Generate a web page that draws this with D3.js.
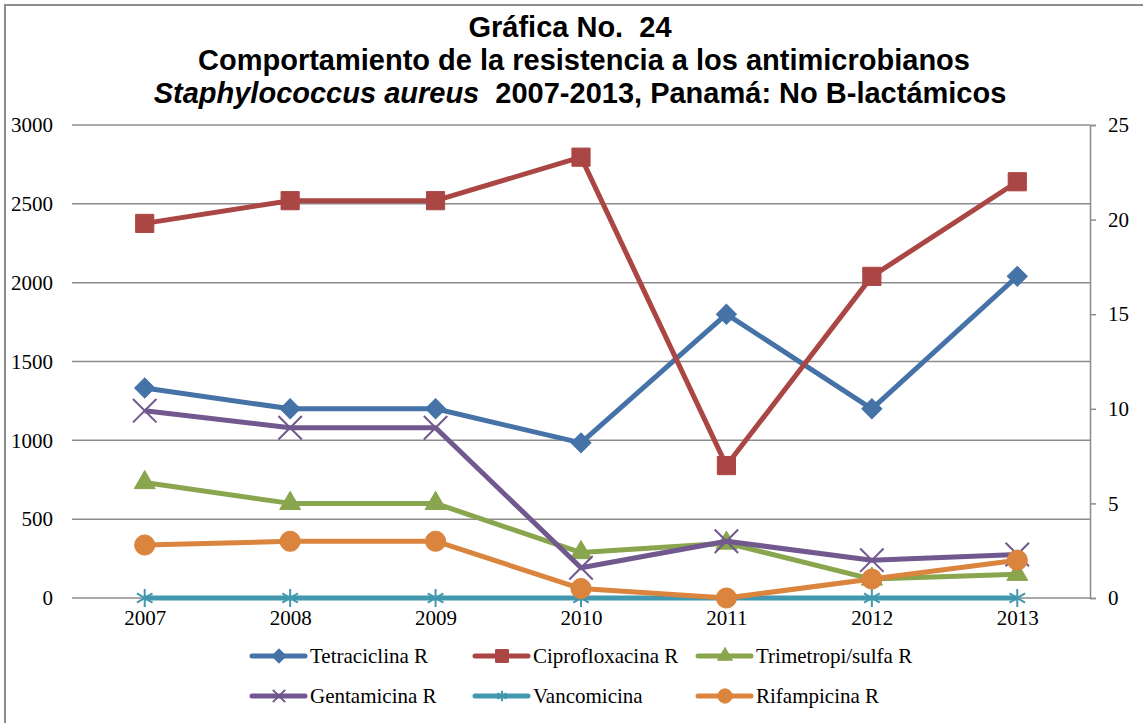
<!DOCTYPE html>
<html>
<head>
<meta charset="utf-8">
<script src="https://cdnjs.cloudflare.com/ajax/libs/d3/7.8.5/d3.min.js"></script>
<style>
  body { margin: 0; background: #fff; }
  svg { display: block; }
</style>
</head>
<body>
<div id="chart"></div>
<script>
// datos (eje derecho, 0-25)
var years = ["2007","2008","2009","2010","2011","2012","2013"];
var tetraciclina   = [11.1, 10, 10, 8.2, 15, 10, 17];
var ciprofloxacina = [19.8, 21, 21, 23.3, 7, 17, 22];
var trimetropi     = [6.1, 5, 5, 2.4, 2.9, 1, 1.25];
var gentamicina    = [9.9, 9, 9, 1.6, 3, 2, 2.3];
var vancomicina    = [0, 0, 0, 0, 0, 0, 0];
var rifampicina    = [2.8, 3, 3, 0.5, 0, 1, 2];

var leftTicks  = [0, 500, 1000, 1500, 2000, 2500, 3000];
var rightTicks = [0, 5, 10, 15, 20, 25];

var series = [
  {name: "Tetraciclina R",     values: tetraciclina,   color: "#4572A7", mark: "diamond"},
  {name: "Ciprofloxacina R",   values: ciprofloxacina, color: "#AA4643", mark: "square"},
  {name: "Trimetropi/sulfa R", values: trimetropi,     color: "#89A54E", mark: "triangle"},
  {name: "Gentamicina R",      values: gentamicina,    color: "#71588F", mark: "times"},
  {name: "Vancomicina",        values: vancomicina,    color: "#4198AF", mark: "asterisk"},
  {name: "Rifampicina R",      values: rifampicina,    color: "#DB843D", mark: "circle"}
];

var W = 1143, H = 723;
var plot = {left: 72, right: 1090, top: 125, bottom: 598};

var svg = d3.select("#chart").append("svg")
    .attr("width", W)
    .attr("height", H);

svg.append("rect")
    .attr("x", 5).attr("y", 5)
    .attr("width", W + 20).attr("height", H + 20)
    .attr("fill", "#fff")
    .attr("stroke", "#8c8c8c")
    .attr("stroke-width", 2);

// titulo
var title = svg.append("g")
    .attr("font-family", "'Liberation Sans', Arial, sans-serif")
    .attr("font-weight", "bold")
    .attr("font-size", 29)
    .attr("text-anchor", "middle")
    .attr("fill", "#000");
title.append("text").attr("x", 570).attr("y", 37).text("Gráfica No.\u00a0 24");
title.append("text").attr("x", 584).attr("y", 70).text("Comportamiento de la resistencia a los antimicrobianos");
var t3 = title.append("text").attr("x", 580).attr("y", 103);
t3.append("tspan").attr("font-style", "italic").text("Staphylococcus aureus");
t3.append("tspan").text("\u00a0 2007-2013, Panamá: No B-lactámicos");

var x = d3.scalePoint()
    .domain(years)
    .range([plot.left, plot.right])
    .padding(0.5);

var yLeft = d3.scaleLinear().domain([0, 3000]).range([plot.bottom, plot.top]);
var yRight = d3.scaleLinear().domain([0, 25]).range([plot.bottom, plot.top]);

// lineas de cuadricula
svg.append("g")
    .selectAll("line")
    .data(leftTicks)
    .join("line")
    .attr("x1", plot.left)
    .attr("x2", plot.right)
    .attr("y1", d => yLeft(d))
    .attr("y2", d => yLeft(d))
    .attr("stroke", "#8c8c8c")
    .attr("stroke-width", 1.5);

// eje izquierdo
var axL = svg.append("g")
    .attr("transform", "translate(" + plot.left + ",0)")
    .call(d3.axisLeft(yLeft).tickValues(leftTicks).tickFormat(d3.format("d")).tickSize(0).tickPadding(19));
axL.select(".domain").remove();

// eje derecho
var axR = svg.append("g")
    .attr("transform", "translate(" + plot.right + ",0)")
    .call(d3.axisRight(yRight).tickValues(rightTicks).tickSize(6).tickPadding(12));
axR.select(".domain").attr("stroke", "#8c8c8c").attr("stroke-width", 1.5);
axR.selectAll(".tick line").attr("stroke", "#8c8c8c").attr("stroke-width", 1.5);

// eje x
var axX = svg.append("g")
    .attr("transform", "translate(0," + plot.bottom + ")")
    .call(d3.axisBottom(x).tickSize(0).tickPadding(12));
axX.select(".domain").remove();

svg.selectAll(".tick text")
    .attr("font-family", "'Liberation Serif', 'Times New Roman', serif")
    .attr("font-size", 21)
    .attr("fill", "#000");

function symbolFor(mark, big) {
  var k = big ? 1 : 0.5;
  if (mark == "diamond")  return {type: d3.symbolSquare, size: 200 * k, rot: 45, stroke: false};
  if (mark == "square")   return {type: d3.symbolSquare, size: 330 * k, rot: 0, stroke: false};
  if (mark == "triangle") return {type: d3.symbolTriangle, size: 190 * k, rot: 0, stroke: false};
  if (mark == "circle")   return {type: d3.symbolCircle, size: 320 * k, rot: 0, stroke: false};
  if (mark == "times")    return {type: d3.symbolTimes, size: (big ? 360 : 100), rot: 0, stroke: true};
  return {type: d3.symbolAsterisk, size: (big ? 230 : 80), rot: 0, stroke: true};
}

function drawMarker(g, s, cx, cy, big) {
  var sym = symbolFor(s.mark, big);
  var p = g.append("path")
      .attr("d", d3.symbol().type(sym.type).size(sym.size)())
      .attr("transform", "translate(" + cx + "," + cy + ") rotate(" + sym.rot + ")");
  if (sym.stroke) {
    p.attr("fill", "none").attr("stroke", s.color).attr("stroke-width", 2);
  } else {
    p.attr("fill", s.color).attr("stroke", s.color).attr("stroke-width", 1);
  }
}

var line = d3.line()
    .x((d, i) => x(years[i]))
    .y(d => yRight(d));

var lines = svg.append("g");
series.forEach(function(s) {
  var g = lines.append("g");
  g.append("path")
      .datum(s.values)
      .attr("d", line)
      .attr("fill", "none")
      .attr("stroke", s.color)
      .attr("stroke-width", 5)
      .attr("stroke-linejoin", "round");
  s.values.forEach(function(v, i) {
    drawMarker(g, s, x(years[i]), yRight(v), true);
  });
});

// leyenda
var legCols = [252, 475, 698];
var legRows = [656, 696];
var leg = svg.append("g");
series.forEach(function(s, i) {
  var lx = legCols[i % 3], ly = legRows[Math.floor(i / 3)];
  var g = leg.append("g");
  g.append("line")
      .attr("x1", lx).attr("x2", lx + 53)
      .attr("y1", ly).attr("y2", ly)
      .attr("stroke", s.color)
      .attr("stroke-width", 5)
      .attr("stroke-linecap", "round");
  drawMarker(g, s, lx + 27, ly, false);
  g.append("text")
      .attr("x", lx + 58)
      .attr("y", ly)
      .attr("dy", "0.35em")
      .attr("font-family", "'Liberation Serif', 'Times New Roman', serif")
      .attr("font-size", 21)
      .attr("fill", "#000")
      .text(s.name);
});
</script>
</body>
</html>
